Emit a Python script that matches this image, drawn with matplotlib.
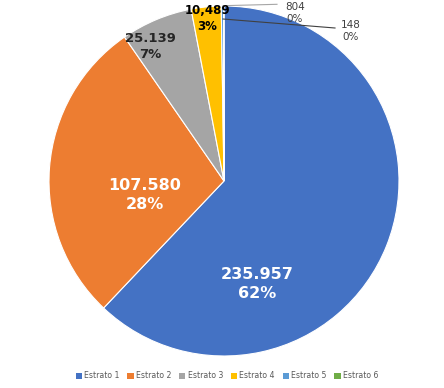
import matplotlib
matplotlib.use("Agg")
import matplotlib.pyplot as plt
from matplotlib.patches import Patch

# datos por estrato
estratos = ["Estrato 1", "Estrato 2", "Estrato 3", "Estrato 4", "Estrato 5", "Estrato 6"]
valores = [235957, 107580, 25139, 10489, 804, 148]
etiquetas_valor = ["235.957", "107.580", "25.139", "10,489", "804", "148"]
etiquetas_pct = ["62%", "28%", "7%", "3%", "0%", "0%"]
colores = ["#4472C4", "#ED7D31", "#A5A5A5", "#FFC000", "#5B9BD5", "#70AD47"]

W, H = 444, 388
fig = plt.figure(figsize=(W / 100, H / 100), dpi=100)
ax = fig.add_axes([0, 0, 1, 1])

cx, cy, r = 224, H - 181, 175
wedges, _ = ax.pie(valores, colors=colores, startangle=90, counterclock=False,
                   center=(cx, cy), radius=r, frame=True,
                   wedgeprops=dict(edgecolor="white", linewidth=0.8))
ax.set_xlim(0, W)
ax.set_ylim(0, H)
ax.set_aspect("equal")
ax.axis("off")

# posiciones de etiquetas (pixeles desde arriba)
pos = [(257, 284), (145, 195), (150, 46), (207, 19), (295, 13), (351, 31)]
estilos = [
    dict(color="white", fontsize=11.5, fontweight="bold"),
    dict(color="white", fontsize=11.5, fontweight="bold"),
    dict(color="#262626", fontsize=9.5, fontweight="bold"),
    dict(color="black", fontsize=8.5, fontweight="bold"),
    dict(color="#404040", fontsize=7.5),
    dict(color="#404040", fontsize=7.5),
]
for (px, py), v, p, st in zip(pos, etiquetas_valor, etiquetas_pct, estilos):
    ax.text(px, H - py, f"{v}\n{p}", ha="center", va="center",
            linespacing=1.3, **st)

# lineas guia para los estratos pequenos
ax.plot([223, 277], [H - 5.7, H - 4.3], color="#A6A6A6", lw=0.8)
ax.plot([223, 335], [H - 19, H - 28], color="#404040", lw=0.8)

handles = [Patch(facecolor=c, label=e) for c, e in zip(colores, estratos)]
fig.legend(handles=handles, loc="center", bbox_to_anchor=(227 / W, 1 - 376 / H),
           ncol=6, frameon=False, fontsize=5.6, handlelength=0.8, handleheight=0.8,
           handletextpad=0.3, columnspacing=1.0, labelcolor="#595959")

fig.savefig("out.png", dpi=100)
